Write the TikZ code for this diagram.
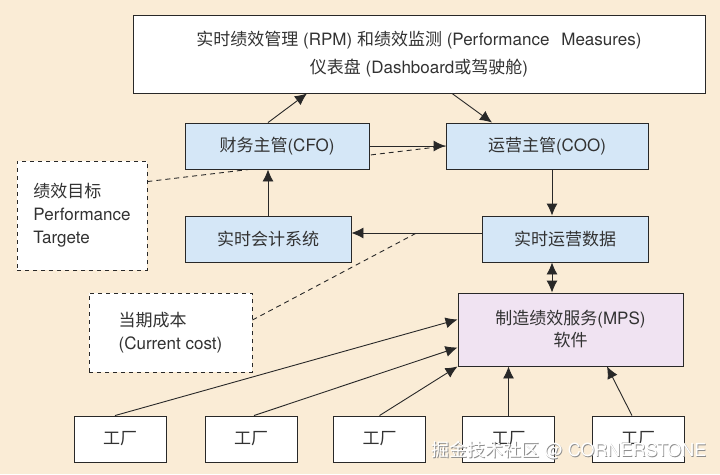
\documentclass[tikz,border=0pt]{standalone}
\usepackage{fontspec}
\setmainfont{TeX Gyre Heros}
\newfontfamily\cjk{Noto Sans CJK SC}
\usetikzlibrary{calc,arrows.meta}
\definecolor{paper}{RGB}{250,236,214}
\definecolor{boxblue}{RGB}{213,231,247}
\definecolor{boxlilac}{RGB}{240,227,242}
\definecolor{ink}{RGB}{40,40,40}
\definecolor{txt}{RGB}{50,50,50}

\begin{document}
\begin{tikzpicture}[x=1pt,y=-1pt,
    font=\fontsize{17}{23}\selectfont, text=txt,
    box/.style={draw=ink,line width=0.9pt,inner sep=0pt,align=center},
    bluebox/.style={box,fill=boxblue,minimum height=46},
    notebox/.style={box,fill=white,dashed,dash pattern=on 4pt off 4pt,align=left},
    plant/.style={box,fill=white,minimum width=92,minimum height=46},
    arr/.style={draw=ink,line width=0.9pt,-{Latex[length=12pt,width=11pt]}},
    arrboth/.style={arr,{Latex[length=12pt,width=11pt]}-{Latex[length=12pt,width=11pt]}},
    dashline/.style={draw=ink,line width=0.9pt,dash pattern=on 5pt off 4pt}]
  \fill[paper] (0,0) rectangle (720,474);
  \useasboundingbox (0,0) rectangle (720,474);

  \node[box,fill=white,minimum width=572,minimum height=78] (dash) at (419,54)
    {{\cjk 实时绩效管理} (RPM) {\cjk 和绩效监测} (Performance\hspace{0.7em}Measures)\\[5pt]
     {\cjk 仪表盘} (Dashboard{\cjk 或驾驶舱})};
  \node[bluebox,minimum width=202] (coo) at (547,146) {{\cjk 运营主管}(COO)};
  \node[notebox,minimum width=130,minimum height=109] (goal) at (82,215.5)
    {{\cjk 绩效目标}\\Performance\\Targete};
  \draw[dashline] ($(goal.north east)+(0,21)$) -- (coo.west);
  \node[bluebox,minimum width=184] (cfo) at (277,146) {{\cjk 财务主管}(CFO)};
  \node[bluebox,minimum width=166] (acct) at (268,239) {\cjk 实时会计系统};
  \node[bluebox,minimum width=166] (ops) at (565,239) {\cjk 实时运营数据};
  \node[box,fill=boxlilac,minimum width=225,minimum height=73] (mps) at (570.5,329.5)
    {{\cjk 制造绩效服务}(MPS)\\[-1pt]{\cjk 软件}};
  \node[notebox,minimum width=163,minimum height=79] (cost) at (170.5,332.5)
    {{\cjk 当期成本}\\(Current cost)};
  \foreach \x [count=\i] in {120,251,379.5,508.5,638}
    \node[plant] (f\i) at (\x,439) {\cjk 工厂};

  \draw[arr] (acct.north |- cfo.north) -- ($(dash.south)+(-112,0)$);
  \draw[arr] ($(dash.south)+(33,0)$) -- ($(coo.north)+(-55,0)$);
  \draw[arr] (cfo) -- (coo);
  \draw[arr] ($(coo.south)+(5,0)$) coordinate (c1) -- (c1 |- ops.north);
  \draw[arrboth] (c1 |- ops.south) -- (c1 |- mps.north);
  \draw[arr] (acct.north) -- (acct.north |- cfo.south);
  \draw[arr] ($(ops.west)+(0,-6)$) -- coordinate (mid) ($(acct.east)+(0,-6)$);
  \draw[dashline] ($(cost.east)+(0,-12.5)$) -- (mid);

  \draw[arr] ($(f1.north)+(-5,0)$) -- ($(mps.west)+(0,-10)$);
  \draw[arr] ($(f2.north)+(3,0)$) -- ($(mps.west)+(0,18)$);
  \draw[arr] (f3.north) -- (mps.south west);
  \draw[arr] (f4.north) -- (f4.north |- mps.south);
  \draw[arr] ($(f5.north)+(-6,0)$) -- ($(mps.south)+(36.5,0)$);

  \node[anchor=west,font=\fontsize{18}{18}\selectfont,text=black!45] at (428.8,450.8)
    {{\cjk 掘金技术社区} @ CORNERSTONE};
  \node[anchor=west,font=\fontsize{18}{18}\selectfont,text=white] (mark) at (428,450)
    {{\cjk 掘金技术社区} @ CORNERSTONE};
\end{tikzpicture}
\end{document}
